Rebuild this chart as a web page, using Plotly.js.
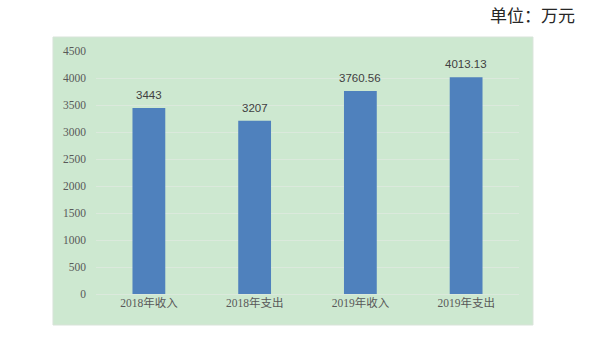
<!DOCTYPE html>
<html>
<head>
<meta charset="utf-8">
<script src="https://cdn.plot.ly/plotly-3.0.1.min.js"></script>
<style>html,body{margin:0;padding:0;background:#fff;}#chart{width:598px;height:338px;}</style>
</head>
<body>
<div id="chart"></div>
<script>
const categories = ["2018年收入", "2018年支出", "2019年收入", "2019年支出"];
const values = [3443, 3207, 3760.56, 4013.13];
const valueLabels = ["3443", "3207", "3760.56", "4013.13"];
const yTicks = [0, 500, 1000, 1500, 2000, 2500, 3000, 3500, 4000, 4500];

const trace = {
  type: "bar",
  x: categories,
  y: values,
  marker: {color: "#4f81bd"},
  hoverinfo: "none"
};

const labelAnnotations = categories.map((c, i) => ({
  x: c, y: values[i], xref: "x", yref: "y",
  text: valueLabels[i], showarrow: false,
  xanchor: "center", yanchor: "bottom", yshift: 5,
  font: {family: "Liberation Sans, Noto Sans CJK SC", size: 11.5, color: "#404040"}
}));

const layout = {
  width: 598, height: 338,
  margin: {l: 96, r: 79, t: 51, b: 44},
  paper_bgcolor: "#ffffff",
  plot_bgcolor: "rgba(0,0,0,0)",
  bargap: 0.69,
  showlegend: false,
  xaxis: {
    type: "category",
    showgrid: false, zeroline: false, showline: false,
    ticks: "",
    tickfont: {family: "Liberation Serif, Noto Sans CJK SC", size: 11.5, color: "#595959"}
  },
  yaxis: {
    range: [0, 4500],
    tickvals: yTicks,
    ticktext: yTicks.map(String),
    showgrid: true, gridcolor: "#dbe9dc", gridwidth: 1,
    zeroline: true, zerolinecolor: "#dbe9dc", zerolinewidth: 1,
    showline: false, ticks: "",
    ticklabelstandoff: 9,
    tickfont: {family: "Liberation Serif, Noto Sans CJK SC", size: 11.5, color: "#595959"}
  },
  shapes: [{
    type: "rect", xref: "paper", yref: "paper", layer: "below",
    x0: -0.1017, x1: 1.033, y0: -0.1276, y1: 1.0576,
    fillcolor: "#cde8d0", line: {color: "#d8e3d9", width: 1}
  }],
  annotations: labelAnnotations.concat([{
    text: "单位：万元", xref: "paper", yref: "paper",
    x: 1.137, y: 1.152, xanchor: "right", yanchor: "middle",
    showarrow: false,
    font: {family: "Noto Sans CJK SC", size: 17, color: "#262626"}
  }])
};

Plotly.newPlot("chart", [trace], layout, {displayModeBar: false, staticPlot: true});
</script>
</body>
</html>
